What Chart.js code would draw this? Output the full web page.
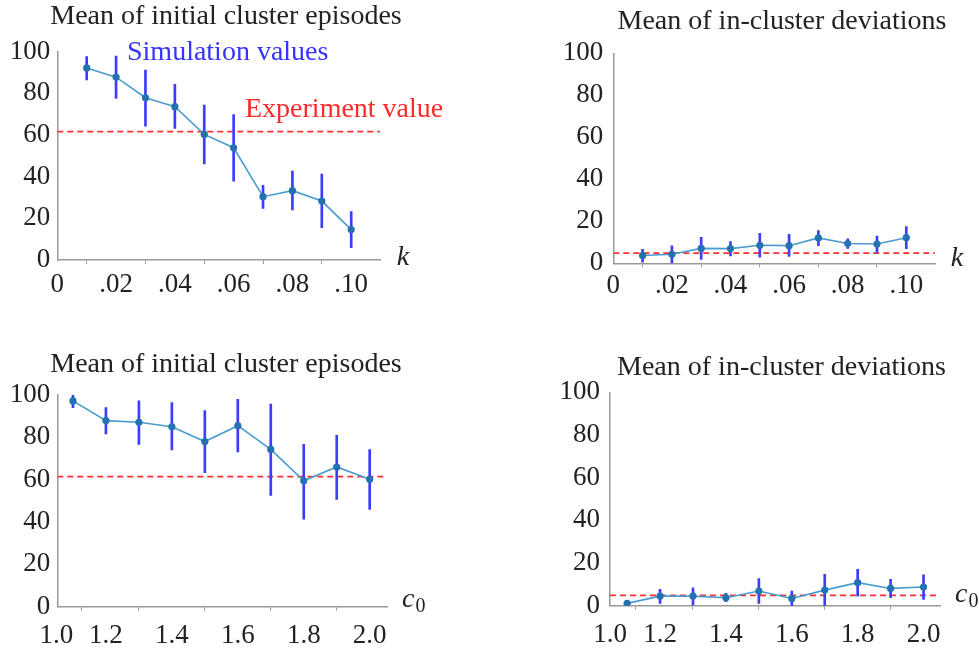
<!DOCTYPE html>
<html>
<head>
<meta charset="utf-8">
<script src="https://cdn.jsdelivr.net/npm/chart.js@4.4.1/dist/chart.umd.min.js"></script>
<style>
  body { margin: 0; background: #fff; }
  #wrap { position: relative; width: 979px; height: 652px; overflow: hidden; }
  .panel { position: absolute; }
</style>
</head>
<body>
<div id="wrap">
  <div class="panel" style="left:0;top:0;width:489px;height:326px"><canvas id="c1"></canvas></div>
  <div class="panel" style="left:489px;top:0;width:490px;height:326px"><canvas id="c2"></canvas></div>
  <div class="panel" style="left:0;top:326px;width:489px;height:326px"><canvas id="c3"></canvas></div>
  <div class="panel" style="left:489px;top:326px;width:490px;height:326px"><canvas id="c4"></canvas></div>
</div>
<script>
// x positions
const kValues = [0.01, 0.02, 0.03, 0.04, 0.05, 0.06, 0.07, 0.08, 0.09, 0.10];
const c0Values = [1.1, 1.2, 1.3, 1.4, 1.5, 1.6, 1.7, 1.8, 1.9, 2.0];

// tick positions / labels
const kTicks = [0, 0.02, 0.04, 0.06, 0.08, 0.10];
const kTickLabels = ['0', '.02', '.04', '.06', '.08', '.10'];
const c0Ticks = [1.05, 1.2, 1.4, 1.6, 1.8, 2.0];
const c0TickLabels = ['1.0', '1.2', '1.4', '1.6', '1.8', '2.0'];
const yTicks = [0, 20, 40, 60, 80, 100];

// top left: initial cluster episodes vs k
const episodesK = [92.2, 87.8, 77.9, 73.6, 60.3, 53.9, 30.4, 33.3, 28.3, 14.6];
const episodesKLow = [86.4, 77.6, 64.3, 63.2, 46.1, 37.9, 24.8, 24.0, 15.5, 5.9];
const episodesKHigh = [97.6, 97.9, 91.2, 84.3, 74.4, 69.8, 35.8, 42.7, 41.3, 23.2];
const episodesKExp = 61.6;

// top right: in-cluster deviations vs k
const deviationsK = [3.7, 4.3, 7.1, 7.0, 8.6, 8.4, 12.1, 9.4, 9.2, 12.2];
const deviationsKLow = [0.5, 0, 1.9, 3.5, 2.9, 3.3, 8.4, 7.1, 5.2, 7.0];
const deviationsKHigh = [6.7, 8.3, 12.4, 10.3, 14.3, 13.8, 15.6, 11.7, 13.0, 17.5];
const deviationsKExp = 4.8;

// bottom left: initial cluster episodes vs c0
const episodesC0 = [97.2, 87.9, 87.1, 85.0, 78.0, 85.5, 74.3, 59.5, 66.0, 60.2];
const episodesC0Low = [94.0, 81.6, 76.7, 74.0, 63.3, 73.1, 52.6, 41.4, 50.7, 46.0];
const episodesC0High = [100.3, 94.0, 97.2, 96.4, 92.6, 98.0, 95.7, 76.7, 80.9, 74.2];
const episodesC0Exp = 61.4;

// bottom right: in-cluster deviations vs c0
const deviationsC0 = [1.1, 4.5, 4.5, 3.75, 6.9, 3.4, 7.3, 10.8, 8.1, 8.75];
const deviationsC0Low = [1.1, 1.1, 0.3, 1.9, 1.1, 0, 0, 4.5, 3.75, 3.0];
const deviationsC0High = [1.1, 7.7, 8.4, 5.8, 12.7, 6.9, 14.7, 17.0, 12.3, 14.5];
const deviationsC0Exp = 4.8;

const SERIF = '"Liberation Serif", "DejaVu Serif", serif';

// draws titles / annotations relative to the chart area
const textPlugin = {
  id: 'texts',
  afterDraw(chart, args, opts) {
    const ctx = chart.ctx;
    const a = chart.chartArea;
    (opts.items || []).forEach(t => {
      const x = (t.fromRight ? a.right : a.left) + t.dx;
      const y = (t.fromBottom ? a.bottom : a.top) + t.dy;
      ctx.save();
      ctx.fillStyle = t.color || '#222';
      ctx.font = (t.style || '') + ' ' + t.size + 'px ' + SERIF;
      ctx.textAlign = t.align || 'left';
      ctx.textBaseline = 'middle';
      ctx.fillText(t.text, x, y);
      if (t.sub) {
        const w = ctx.measureText(t.text).width;
        ctx.font = Math.round(t.size * 0.7) + 'px ' + SERIF;
        ctx.textAlign = 'left';
        ctx.fillText(t.sub, x + w + 1, y + t.size * 0.25);
      }
      ctx.restore();
    });
  }
};

function makeChart(id, cfg) {
  const xs = cfg.xs;
  const datasets = [
    {
      type: 'line',
      data: xs.map((x, i) => ({ x, y: cfg.mean[i] })),
      borderColor: '#4a9ccf',
      borderWidth: 1.6,
      pointRadius: 3.6,
      pointBackgroundColor: '#2471b0',
      pointBorderWidth: 0,
      order: 0
    },
    {
      type: 'bar',
      data: xs.map((x, i) => ({ x, y: [cfg.low[i], cfg.high[i]] })),
      backgroundColor: '#3c3cff',
      barThickness: 2,
      order: 1
    },
    {
      type: 'line',
      data: [{ x: cfg.xMin, y: cfg.exp }, { x: cfg.xMax, y: cfg.exp }],
      borderColor: '#ff3030',
      borderWidth: 1.8,
      borderDash: [6, 4],
      pointRadius: 0,
      order: 2
    }
  ];

  return new Chart(document.getElementById(id), {
    type: 'line',
    data: { datasets },
    plugins: [textPlugin],
    options: {
      responsive: true,
      maintainAspectRatio: false,
      animation: false,
      layout: { padding: cfg.padding },
      plugins: {
        legend: { display: false },
        tooltip: { enabled: false },
        title: { display: false },
        texts: { items: cfg.texts }
      },
      scales: {
        x: {
          type: 'linear',
          min: cfg.xMin,
          max: cfg.xMax,
          offset: false,
          afterBuildTicks: axis => { axis.ticks = cfg.ticks.map(v => ({ value: v })); },
          afterFit: s => { s.height = 40; },
          ticks: {
            autoSkip: false,
            maxRotation: 0,
            padding: cfg.xPad,
            color: '#222',
            font: { family: SERIF, size: 27 },
            callback: (v, i) => cfg.tickLabels[i]
          },
          grid: { drawOnChartArea: false, drawTicks: true, tickLength: 4, color: '#999' },
          border: { color: '#999', width: 1.5 }
        },
        y: {
          min: 0,
          max: 100,
          afterBuildTicks: axis => { axis.ticks = yTicks.map(v => ({ value: v })); },
          afterFit: s => { s.width = cfg.yWidth; },
          ticks: {
            padding: cfg.yPad,
            color: '#222',
            font: { family: SERIF, size: 27 }
          },
          grid: { display: false, drawTicks: false, tickLength: 0 },
          border: { color: '#999', width: 1.5 }
        }
      }
    }
  });
}

makeChart('c1', {
  xs: kValues, mean: episodesK, low: episodesKLow, high: episodesKHigh, exp: episodesKExp,
  xMin: 0, xMax: 0.1098, ticks: kTicks, tickLabels: kTickLabels, xPad: 5,
  yWidth: 56, yPad: 7,
  padding: { left: 1.3, right: 109, top: 51.7, bottom: 26 },
  texts: [
    { text: 'Mean of initial cluster episodes', dx: 168.7, dy: -34.7, size: 28, align: 'center' },
    { text: 'Simulation values', dx: 69.7, dy: 1.3, size: 28, color: '#3434ff' },
    { text: 'Experiment value', dx: 187.7, dy: 58.3, size: 28, color: '#ff2a2a' },
    { text: 'k', fromRight: true, fromBottom: true, dx: 23, dy: -2, size: 28, style: 'italic', align: 'center' }
  ]
});

makeChart('c2', {
  xs: kValues, mean: deviationsK, low: deviationsKLow, high: deviationsKHigh, exp: deviationsKExp,
  xMin: 0, xMax: 0.1098, ticks: kTicks, tickLabels: kTickLabels, xPad: 2,
  yWidth: 80, yPad: 10,
  padding: { left: 44.3, right: 44, top: 53.3, bottom: 22.7 },
  texts: [
    { text: 'Mean of in-cluster deviations', dx: 168.7, dy: -31.3, size: 28, align: 'center' },
    { text: 'k', fromRight: true, fromBottom: true, dx: 22, dy: -5, size: 28, style: 'italic', align: 'center' }
  ]
});

makeChart('c3', {
  xs: c0Values, mean: episodesC0, low: episodesC0Low, high: episodesC0High, exp: episodesC0Exp,
  xMin: 1.0525, xMax: 2.0525, ticks: c0Ticks, tickLabels: c0TickLabels, xPad: 9,
  yWidth: 56, yPad: 7,
  padding: { left: 1.3, right: 102, top: 69, bottom: 5.3 },
  texts: [
    { text: 'Mean of initial cluster episodes', dx: 168.7, dy: -30, size: 28, align: 'center' },
    { text: 'c', sub: '0', fromRight: true, fromBottom: true, dx: 15, dy: -7, size: 28, style: 'italic' }
  ]
});

makeChart('c4', {
  xs: c0Values, mean: deviationsC0, low: deviationsC0Low, high: deviationsC0High, exp: deviationsC0Exp,
  xMin: 1.048, xMax: 2.05, ticks: [1.048, 1.2, 1.4, 1.6, 1.8, 2.0], tickLabels: c0TickLabels, xPad: 9,
  yWidth: 80, yPad: 10,
  padding: { left: 41, right: 39, top: 66.3, bottom: 6.3 },
  texts: [
    { text: 'Mean of in-cluster deviations', dx: 171.5, dy: -24.3, size: 28, align: 'center' },
    { text: 'c', sub: '0', fromRight: true, fromBottom: true, dx: 15, dy: -11, size: 28, style: 'italic' }
  ]
});
</script>
</body>
</html>
